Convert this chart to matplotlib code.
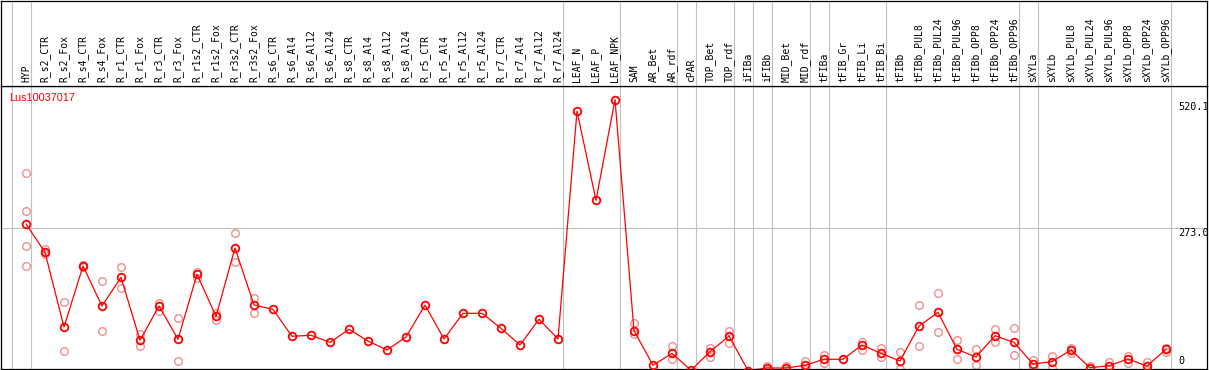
import numpy as np
import matplotlib
matplotlib.use("Agg")
import matplotlib.pyplot as plt

# sample names, in plotting order
samples = [
    "HYP", "R_s2_CTR", "R_s2_Fox", "R_s4_CTR", "R_s4_Fox", "R_r1_CTR", "R_r1_Fox",
    "R_r3_CTR", "R_r3_Fox", "R_r1s2_CTR", "R_r1s2_Fox", "R_r3s2_CTR", "R_r3s2_Fox",
    "R_s6_CTR", "R_s6_Al4", "R_s6_Al12", "R_s6_Al24", "R_s8_CTR", "R_s8_Al4",
    "R_s8_Al12", "R_s8_Al24", "R_r5_CTR", "R_r5_Al4", "R_r5_Al12", "R_r5_Al24",
    "R_r7_CTR", "R_r7_Al4", "R_r7_Al12", "R_r7_Al24", "LEAF_N", "LEAF_P", "LEAF_NPK",
    "SAM", "AR_Bet", "AR_rdf", "cPAR", "TOP_Bet", "TOP_rdf", "iFIBa", "iFIBb",
    "MID_Bet", "MID_rdf", "tFIBa", "tFIB_Gr", "tFIB_Li", "tFIB_Bi", "tFIBb",
    "tFIBb_PUL8", "tFIBb_PUL24", "tFIBb_PUL96", "tFIBb_OPP8", "tFIBb_OPP24",
    "tFIBb_OPP96", "sXYLa", "sXYLb", "sXYLb_PUL8", "sXYLb_PUL24", "sXYLb_PUL96",
    "sXYLb_OPP8", "sXYLb_OPP24", "sXYLb_OPP96",
]

# tissue groups (separated by grey lines)
group_sizes = [1, 28, 3, 3, 1, 2, 1, 1, 2, 1, 3, 7, 1, 7]

# mean expression per sample
means = [
    281.2, 226.9, 83.5, 200.6, 123.8, 178.9, 58.0, 123.8, 59.9, 184.7, 104.0,
    235.2, 125.7, 117.5, 65.7, 67.6, 54.1, 79.1, 56.6, 39.4, 64.3, 125.7, 60.5,
    109.8, 109.8, 81.0, 49.0, 98.3, 60.5, 498.0, 326.7, 520.1, 76.4, 10.0, 33.0,
    0.5, 36.1, 66.2, 0.0, 4.8, 4.8, 10.0, 21.5, 21.5, 49.0, 33.0, 18.2, 85.4,
    111.7, 40.7, 25.9, 66.8, 54.1, 12.5, 16.9, 39.4, 5.4, 9.2, 22.1, 8.6, 40.7,
]

# individual replicates per sample (empty = only the mean is shown)
replicates = [
    [378.6, 306.2, 238.4, 200.6], [233.2, 223.1], [130.9, 37.4], [203.0, 198.0],
    [171.2, 75.3], [198.7, 158.4], [70.6, 46.5], [130.2, 114.2], [100.2, 18.2],
    [189.7, 178.2], [109.8, 96.9], [263.4, 207.7], [139.2, 111.0],
    [], [], [], [], [], [], [], [], [], [], [], [], [], [], [], [],
    [], [], [],
    [90.6, 70.1], [], [47.0, 22.0], [], [43.8, 26.5], [75.8, 53.4], [],
    [9.2, 0.5], [9.2, 0.5], [18.2, 1.8], [29.8, 13.8], [], [55.3, 39.4],
    [42.6, 26.5], [34.9, 2.3], [125.7, 47.0], [148.2, 73.3], [58.0, 22.7],
    [40.7, 10.0], [79.7, 55.3], [81.0, 29.2], [20.2, 6.7], [27.8, 4.8],
    [43.8, 33.0], [8.6, 2.0], [16.9, 3.5], [28.4, 13.8], [15.7, 1.5], [43.8, 35.5],
]

gene_id = "Lus10037017"
y_max_label = 520.1
y_mid_label = 273.0

RED = "#ff0000"
PINK = "#ee9090"
GREY = "#c0c0c0"

W, H = 1209, 370
fig = plt.figure(figsize=(W / 100, H / 100), dpi=100)

# pixel layout
left_px, right_px = 1, 1207
top_px, split_px, bottom_px = 0.5, 86, 369

def frac_x(px):
    return px / W

def frac_y(px):
    return (H - px) / H

ax = fig.add_axes([frac_x(left_px), frac_y(bottom_px),
                   frac_x(right_px - left_px), frac_y(split_px) - frac_y(bottom_px)])
ax_h = fig.add_axes([frac_x(left_px), frac_y(split_px),
                     frac_x(right_px - left_px), frac_y(top_px) - frac_y(split_px)],
                    sharex=ax)

x = np.arange(len(samples))
step = 19.0
x0 = 26.0
ax.set_xlim((left_px - x0) / step, (right_px - x0) / step)
ax.set_ylim(2.9, 546.2)

for a in (ax, ax_h):
    a.set_xticks([])
    a.set_yticks([])
    for s in a.spines.values():
        s.set_color("black")
        s.set_linewidth(0.9)

# group separators
starts = np.cumsum([0] + group_sizes)
for s in starts:
    for a in (ax, ax_h):
        a.axvline(s - 0.75, color=GREY, lw=0.8, zorder=0)
ax.axhline(y_mid_label, color=GREY, lw=0.8, zorder=0)

# replicates
for i, reps in enumerate(replicates):
    if reps:
        ax.plot([i] * len(reps), reps, "o", ms=5.5, mfc="none", mec=PINK, mew=1.0,
                zorder=2)

# means
ax.plot(x, means, "-", color=RED, lw=0.9, zorder=3)
ax.plot(x, means, "o", ms=5.5, mfc="none", mec=RED, mew=1.3, zorder=4)

# sample labels
for i, name in enumerate(samples):
    ax_h.text(i, 0.045, name, rotation=90, ha="center", va="bottom",
              transform=ax_h.get_xaxis_transform(),
              family="DejaVu Sans Mono", fontsize=7.0, color="black")

ax.text(0.007, 0.975, gene_id, transform=ax.transAxes, ha="left", va="top",
        family="Liberation Sans", fontsize=7.8, color=RED)

# value labels on the right
lab_x = (1178 - left_px) / (right_px - left_px)
tr = ax.get_yaxis_transform()
ax.text(lab_x, y_max_label - 5, f"{y_max_label:.1f}", transform=tr, ha="left", va="top",
        family="DejaVu Sans Mono", fontsize=7.3, clip_on=False)
ax.text(lab_x, y_mid_label, f"{y_mid_label:.1f}", transform=tr, ha="left", va="top",
        family="DejaVu Sans Mono", fontsize=7.3, clip_on=False)
ax.text(lab_x, 8, "0", transform=tr, ha="left", va="bottom",
        family="DejaVu Sans Mono", fontsize=7.3)

fig.savefig("out.png", dpi=100)
